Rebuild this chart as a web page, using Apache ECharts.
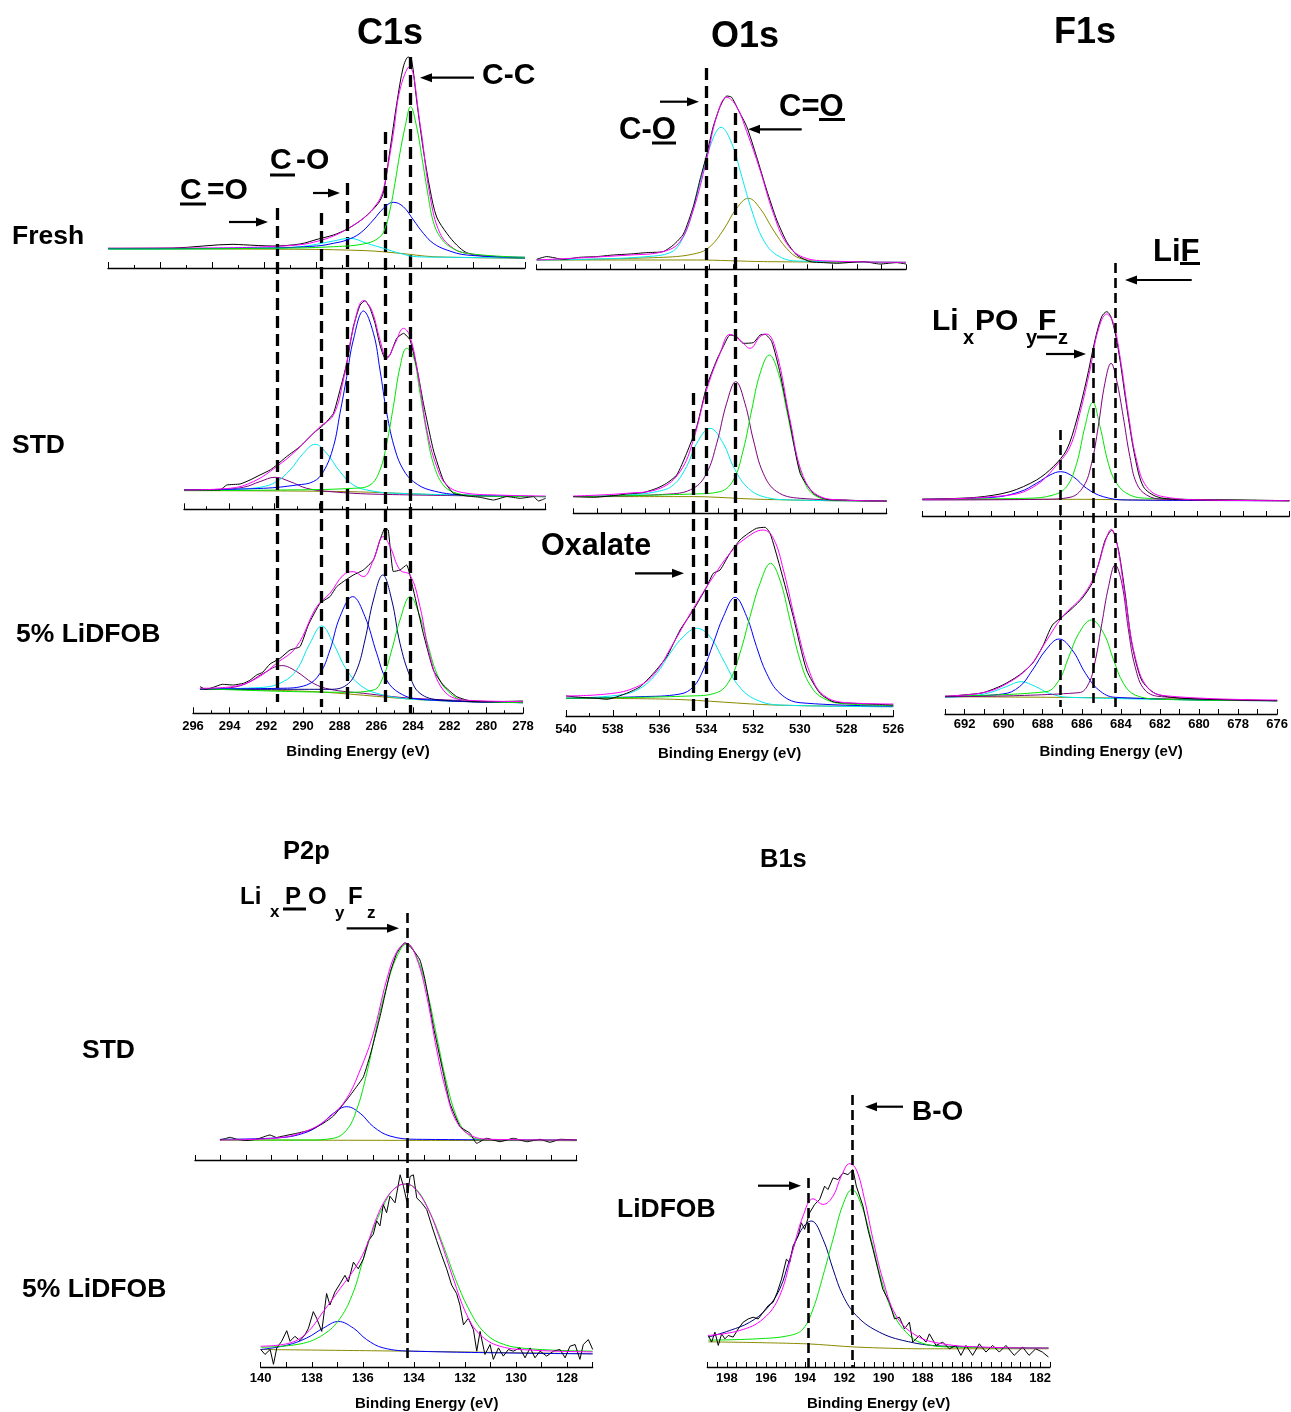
<!DOCTYPE html>
<html><head><meta charset="utf-8">
<script src="https://cdn.jsdelivr.net/npm/echarts/dist/echarts.min.js"></script>
<style>html,body{margin:0;padding:0;background:#fff}#c{width:1291px;height:1412px}</style>
</head><body><div id="c"></div><script>
// ---------------- DATA (binding energy eV, intensity a.u.) ----------------
// C1s Fresh
const c1sFreshData = [[296,19.7],[293.5,20],[291.2,23.7],[290.8,23.2],[289.66,22],[288.63,24],[287.93,29],[287.35,33],[286.84,38.7],[286.2,49.7],[285.63,64.7],[285.43,76],[285.18,118],[284.92,164.7],[284.67,201],[284.48,211],[284.35,208],[284.16,168],[283.9,118],[283.64,78],[283.39,51],[283.0,34.7],[282.62,23],[282.24,15.3],[281.6,12],[280,9.7]];
const c1sFreshFit = [[296,19.7],[291.19,20.3],[289.91,21.3],[288.63,23.3],[287.93,27],[287.35,32],[286.84,38.7],[286.2,49.7],[285.82,59.7],[285.5,73],[285.31,94.7],[285.05,134.7],[284.8,178],[284.44,201.3],[284.03,144.7],[283.64,71.3],[283.26,34.7],[282.75,19.7],[282.24,14.7],[280.96,11.3],[280,10.3]];
const c1sFreshCC = [[296,19],[289.91,19.7],[287.35,21.3],[286.07,24.7],[285.56,31.3],[285.37,39.7],[285.18,58],[284.99,84.7],[284.8,114.7],[284.6,141.3],[284.39,161.3],[284.16,141.3],[283.96,111.3],[283.71,71.3],[283.52,46.3],[283.26,31.3],[282.88,21.3],[282.24,14.7],[280,10.7]];
const c1sFreshB = [[296,19.3],[289.91,20],[288.0,22],[287.35,24.7],[286.84,28],[286.33,34.7],[285.82,48],[285.43,59.7],[285.05,65.7],[284.67,61.3],[284.28,48],[283.9,34.7],[283.52,24.7],[283.0,18],[282.24,13],[280,10.7]];
const c1sFreshC = [[296,19],[289.91,19.7],[288.63,21.3],[288.0,23.7],[287.35,27],[286.71,29.7],[286.07,24.7],[285.43,19.7],[284.8,14.7],[284.16,11.3],[282.88,10.7],[280,10]];
const c1sFreshBg = [[296,19],[288.63,18.7],[286.07,17.3],[284.8,14.7],[283.52,11.3],[280,9.7]];
// C1s STD
const c1sStdData = [[294,19.3],[292.41,19.3],[292.11,24.3],[291.52,25.3],[291.08,29.3],[290.64,34.3],[290.19,39.3],[289.9,44.3],[289.46,52.7],[288.87,62.7],[288.28,76],[287.83,84.3],[287.39,96],[287.1,119.3],[286.8,146],[286.51,182.7],[286.21,204.3],[285.99,208.7],[285.77,201],[285.55,186],[285.33,164.3],[285.11,151],[284.89,154.3],[284.59,171],[284.29,176],[284.0,169.3],[283.71,142.7],[283.41,106],[282.97,59.3],[282.53,29.3],[282.08,16],[281.49,13.3],[280.9,12],[280.31,9.3],[279.72,12.7],[279.13,11],[278.54,12.7],[278.32,8.3],[278,11]];
const c1sStdFit = [[294,19.3],[291.96,21],[290.93,27.7],[289.9,42.7],[289.01,59.3],[287.98,82.7],[287.39,94.3],[286.95,129.3],[286.51,181],[286.06,208.7],[285.7,199.3],[285.33,169.3],[285.03,151],[284.66,166],[284.29,181],[284.0,172.7],[283.63,132.7],[283.26,79.3],[282.82,42.7],[282.38,24.3],[281.64,16.6],[280.17,14.3],[278,13.3]];
const c1sStdB = [[294,19.3],[290.49,21],[289.01,24.3],[288.28,27.7],[287.83,37.7],[287.39,62.7],[287.1,96],[286.8,132.7],[286.51,169.3],[286.06,198.3],[285.62,176],[285.33,139.3],[285.03,96],[284.66,59.3],[284.29,39.3],[283.85,27.7],[283.12,19.3],[281.64,14.3],[278,12.7]];
const c1sStdG = [[294,18.7],[289.75,19.3],[286.51,21],[285.77,24.3],[285.33,39.3],[285.03,66],[284.74,102.7],[284.44,142.7],[284.15,161],[283.85,152.7],[283.56,116],[283.26,76],[282.97,46],[282.53,24.3],[281.94,16],[280.9,13.3],[278,12.7]];
const c1sStdC = [[294,19.3],[291.96,20],[290.64,22],[289.9,27.7],[289.31,39.3],[288.72,56],[288.2,65],[287.69,56],[287.1,37.7],[286.51,24.3],[285.77,18.7],[284.59,16],[278,12.7]];
const c1sStdP = [[294,19.3],[292.41,20],[291.37,22],[290.64,27.7],[289.97,32],[289.31,27.7],[288.57,21],[287.54,17.7],[285.33,15],[278,12.7]];
const c1sStdBg = [[294,18.7],[286.8,17.7],[282.38,14.3],[278,12.7]];
// C1s 5% LiDFOB
const c1sDfData = [[295.62,26.7],[295.3,24],[294.89,26],[294.4,29],[293.8,28.3],[293.25,30],[292.9,33],[292.53,38.3],[292.2,41],[291.8,49.3],[291.25,55],[290.71,63.3],[290.16,66.7],[289.71,88.3],[289.07,110],[288.53,116.7],[288.16,126.7],[287.62,134],[287.25,138.3],[286.71,143.3],[286.16,153.3],[285.8,173.3],[285.53,185],[285.35,183.3],[285.07,141.7],[284.71,143.3],[284.35,148.3],[283.98,123.3],[283.44,80],[282.89,43.3],[282.35,28.3],[281.62,16.7],[280.71,11.7],[279.44,11.7],[278,12.3]];
const c1sDfFit = [[295.62,25],[293.8,26.7],[292.53,35],[291.44,50],[290.35,66.7],[289.25,106.7],[288.53,120],[287.8,138.3],[287.25,141.7],[286.71,136.7],[286.16,153.3],[285.62,176.7],[285.25,166.7],[284.71,143.3],[284.16,138.3],[283.62,106.7],[283.07,56.7],[282.35,23.3],[281.25,13.3],[278,11.7]];
const c1sDfP = [[295.62,24.3],[293.98,25.6],[293.07,30],[292.16,40],[291.16,47.7],[290.35,41.7],[289.44,30],[288.53,24],[286.71,20],[283.98,15],[278,10.7]];
const c1sDfC = [[295.62,24.3],[292.16,26],[291.07,31.7],[290.35,43.3],[289.62,70],[288.98,87.3],[288.35,70],[287.62,43.3],[286.89,28.3],[285.98,20],[283.98,14],[278,10.7]];
const c1sDfB = [[295.62,24.3],[291.25,25],[289.8,28.3],[289.07,40],[288.53,63.3],[287.98,96.7],[287.29,116.7],[286.62,96.7],[285.98,60],[285.44,33.3],[284.71,20],[283.62,14],[278,10.7]];
const c1sDfN = [[295.62,24],[288.53,24],[287.62,28.3],[287.07,43.3],[286.62,73.3],[286.16,113.3],[285.65,138.3],[285.16,113.3],[284.71,70],[284.16,36.7],[283.62,20],[282.53,13.3],[278,10.7]];
const c1sDfG = [[295.62,24.7],[287.62,21],[286.16,23.3],[285.62,36.7],[285.16,63.3],[284.71,93.3],[284.16,116.7],[283.62,96.7],[283.16,66.7],[282.71,40],[282.16,23.3],[281.25,13.3],[278,10.7]];
const c1sDfBg = [[295.62,24.3],[289.44,21.7],[283.98,14],[281.25,11.7],[278,10.7]];
// O1s Fresh
const o1sFreshData = [[541,10],[540.59,12.7],[539.92,10],[539.24,12],[538.56,12.7],[537.89,14.3],[537.21,15.3],[536.53,16.7],[535.86,17.7],[535.45,24.3],[535.04,35.3],[534.64,62.7],[534.37,89.3],[534.1,114.3],[533.83,142.7],[533.55,162.7],[533.28,173.3],[533.08,172],[532.81,159.3],[532.47,142.7],[532.07,112.7],[531.66,79.3],[531.25,49.3],[530.85,27.7],[530.44,14.3],[529.9,7.7],[529.36,6.7],[528.82,6],[527.73,7.7],[527.06,5.3],[526.38,6.7],[526,5.3]];
const o1sFreshFit = [[541,9.3],[537.21,14.3],[535.86,17.7],[535.18,27.7],[534.64,59.3],[534.1,109.3],[533.69,152.7],[533.28,172],[532.88,162.7],[532.47,137.7],[531.93,99.3],[531.39,56],[530.85,26],[530.17,12],[529.09,8.3],[526,7]];
const o1sFreshC = [[541,9.3],[538.56,10.3],[536.53,12.7],[535.58,16.7],[535.18,26],[534.77,49.3],[534.37,86],[533.96,122.7],[533.51,142],[533.08,126],[532.67,92.7],[532.27,59.3],[531.79,29.3],[531.25,14.3],[530.44,8.3],[526,7]];
const o1sFreshO = [[541,9.3],[535.86,12],[534.5,16],[533.96,22.7],[533.42,39.3],[532.88,61],[532.4,71],[531.93,61],[531.39,39.3],[530.85,21],[530.31,11],[529.09,7.7],[526,7]];
const o1sFreshBg = [[541,9.3],[534.5,9.3],[531.79,7.7],[526,6.7]];
// O1s STD
const o1sStdData = [[540,16.7],[539.17,16],[538.48,17.3],[537.79,19.3],[537.1,20.7],[536.54,25],[536.13,30],[535.71,38.3],[535.3,60],[534.88,86.7],[534.47,126.7],[534.05,153.3],[533.78,166.7],[533.5,178.3],[533.22,176.7],[532.95,170],[532.53,170.7],[532.25,178.3],[532.05,179],[531.77,171.7],[531.42,140],[531.01,90],[530.59,40],[530.04,20],[529.49,14],[528.8,13.3],[528.11,12.7],[527,12.3]];
const o1sStdFit = [[540,17.3],[537.79,20],[536.4,25],[535.57,41.7],[535.02,73.3],[534.47,123.3],[533.91,160],[533.5,179],[533.08,173.3],[532.67,165],[532.25,176.7],[531.98,179.3],[531.56,160],[531.01,93.3],[530.46,36.7],[529.76,16.7],[528.8,13.3],[527,12.3]];
const o1sStdC = [[540,16.7],[537.79,18.3],[536.54,21.7],[535.85,28.3],[535.3,46.7],[534.88,70],[534.33,85],[533.78,70],[533.36,46.7],[532.81,26.7],[532.12,16.7],[530.87,13.3],[527,12.3]];
const o1sStdP = [[540,16.7],[535.99,19.3],[535.02,25],[534.47,40],[534.05,70],[533.64,110],[533.26,131.7],[532.88,110],[532.53,73.3],[532.12,40],[531.56,21.7],[530.59,15],[527,12.3]];
const o1sStdG = [[540,16.7],[535.02,19.3],[533.91,21.7],[533.36,33.3],[532.95,63.3],[532.6,103.3],[532.25,140],[531.87,158.3],[531.49,140],[531.15,103.3],[530.8,63.3],[530.39,30],[529.9,16.7],[529.07,13.3],[527,12.3]];
const o1sStdBg = [[540,16.7],[535.02,16.7],[532.25,14],[527,11.7]];
// O1s 5% LiDFOB
const o1sDfData = [[540,20],[539.3,18.5],[538.69,17.7],[538.26,16.7],[537.41,22.7],[536.83,29.3],[536.26,42.7],[535.69,59.3],[535.12,86],[534.55,106],[533.98,129.3],[533.7,142.7],[533.41,146],[532.99,162.7],[532.56,176],[532.2,182.7],[531.85,187.7],[531.49,188.7],[531.27,182.7],[530.85,149.3],[530.28,99.3],[529.71,46],[529.14,22.7],[528.57,14.3],[527.71,12.7],[526,11]];
const o1sDfFit = [[540,20],[538.26,22],[537.12,27.7],[536.26,41],[535.41,72.7],[534.55,107.7],[533.7,139.3],[532.99,162.7],[532.42,176],[531.56,186],[531.13,177.7],[530.7,146],[530.13,89.3],[529.56,42.7],[528.99,21],[528,13.3],[526,12]];
const o1sDfC = [[540,17.7],[537.69,21],[536.83,27.7],[536.12,42.7],[535.55,62.7],[534.98,79.3],[534.41,87.7],[533.84,79.3],[533.27,56],[532.7,32.7],[531.99,17.7],[530.85,11],[526,9.3]];
const o1sDfB = [[540,17.7],[536.83,19.3],[535.12,22],[534.55,29.3],[534.13,46],[533.7,72.7],[533.27,99.3],[532.77,118.7],[532.27,99.3],[531.85,69.3],[531.42,42.7],[530.85,22.7],[529.99,13.3],[526,10]];
const o1sDfG = [[540,17.7],[534.7,20],[533.56,23.3],[532.99,36],[532.56,62.7],[532.13,99.3],[531.7,132.7],[531.25,152.7],[530.85,136],[530.42,96],[529.99,56],[529.56,31],[528.99,17.7],[528,12],[526,10.7]];
const o1sDfBg = [[540,17.7],[535.41,16.7],[531.13,11],[526,9.3]];
// F1s STD
const f1sStdData = [[693,16.7],[690.63,18.7],[689.18,24.3],[688.02,36],[687.29,49.3],[686.71,66],[686.27,96],[685.84,136],[685.47,176],[685.18,199.3],[684.96,204.3],[684.75,197.7],[684.45,166],[684.09,109.3],[683.73,59.3],[683.36,29.3],[682.78,19.3],[681.91,16.7],[679,16],[677,15.3]];
const f1sStdFit = [[693,16.7],[689.18,21],[688.02,31],[687.14,51],[686.56,69.3],[686.13,102.7],[685.69,146],[685.33,186],[684.96,202],[684.67,192.7],[684.38,159.3],[684.02,102.7],[683.66,56],[683.22,29.3],[682.49,19.3],[680.46,16],[677,15.3]];
const f1sStdP = [[693,16],[687.72,16.7],[686.56,18.7],[685.98,29.3],[685.62,52.7],[685.33,89.3],[685.04,132.7],[684.77,152.7],[684.53,136],[684.24,99.3],[683.95,59.3],[683.66,32.7],[683.22,21],[682.49,16.7],[677,15.3]];
const f1sStdG = [[693,16.7],[688.45,17.7],[687.29,21],[686.71,29.3],[686.27,52.7],[685.91,89.3],[685.57,113.7],[685.25,89.3],[684.89,52.7],[684.53,32.7],[683.95,21],[683.07,17.7],[677,15.3]];
const f1sStdB = [[693,16.7],[689.9,18.7],[688.74,24.3],[688.02,32.7],[687.43,41],[686.97,44.3],[686.42,39.3],[685.84,27.7],[685.11,19.3],[684.09,16],[677,15.3]];
const f1sStdBg = [[693,16.7],[686.27,16.7],[683.36,16],[677,15.3]];
// F1s 5% LiDFOB
const f1sDfData = [[693,17.3],[692.07,19],[691.05,21.3],[690.04,29],[689.19,39],[688.52,50.7],[688.01,67.3],[687.5,89],[686.99,97.3],[686.49,105.7],[685.98,115.7],[685.47,130.7],[685.13,150.7],[684.8,174],[684.46,184],[684.12,164],[683.78,120.7],[683.44,70.7],[682.94,34],[682.26,20.7],[681.24,16.3],[679.38,14.7],[676,13.3]];
const f1sDfFit = [[693,18],[691.05,21.3],[689.87,30],[688.69,47.3],[687.84,72.3],[686.99,97.3],[685.98,117.3],[685.3,140.7],[684.8,172.3],[684.49,184.7],[684.2,170.7],[683.78,117.3],[683.27,57.3],[682.6,25.7],[681.58,18],[676,14]];
const f1sDfC = [[693,16.7],[691.73,18],[690.72,21.3],[689.87,27.3],[689.11,32.3],[688.35,27.3],[687.67,20.7],[686.66,16.7],[676,13.3]];
const f1sDfB = [[693,17.3],[690.04,20],[689.19,27.3],[688.52,44],[687.84,64],[687.16,75],[686.49,64],[685.81,40.7],[685.13,24],[684.29,16.7],[676,13.3]];
const f1sDfG = [[693,18],[687.84,22.3],[687.16,34],[686.66,57.3],[686.15,80.7],[685.51,94],[684.88,80.7],[684.37,54],[683.87,30.7],[683.27,19],[681.92,14.7],[676,13.3]];
const f1sDfP = [[693,17.3],[686.15,21.3],[685.64,30.7],[685.3,54],[684.97,90.7],[684.63,127.3],[684.29,149],[683.95,130.7],[683.61,84],[683.27,47.3],[682.77,24],[681.92,17.3],[676,13.3]];
const f1sDfBg = [[693,17.3],[685.3,16.3],[676,13.3]];
// P2p STD
const p2pStdData = [[142.02,20],[141.8,21.5],[141.62,22.7],[141.36,20.7],[141,19.5],[140.58,20.7],[140.05,25],[139.8,22.5],[139.53,24],[139,26.7],[138.48,30],[137.96,36.7],[137.56,44],[137.04,60],[136.65,73.3],[136.38,83.3],[136.06,110],[135.73,143.3],[135.34,186.7],[135.07,206.7],[134.75,217.3],[134.48,211.7],[134.16,200],[133.96,180],[133.63,133.3],[133.24,86.7],[132.98,56.7],[132.58,33.3],[132.19,26.7],[131.93,16.7],[131.54,21.7],[131.01,18.3],[130.49,21.7],[129.96,18.3],[129.44,20.7],[129.05,17.7],[128.65,20.7],[128,20]];
const p2pStdFit = [[142.02,20],[139.92,21.7],[138.61,29],[137.69,43.3],[137.04,61.7],[136.51,90],[135.99,126.7],[135.47,180],[135.07,208.3],[134.68,216.7],[134.29,201.7],[133.89,163.3],[133.5,110],[133.11,66.7],[132.72,38.3],[132.19,25],[131.41,20.7],[128,20]];
const p2pStdG = [[142.02,20],[138.61,20],[137.56,21.7],[137.04,30],[136.65,50],[136.25,86.7],[135.86,133.3],[135.47,173.3],[135.07,203.3],[134.68,216],[134.29,203.3],[133.89,170],[133.5,123.3],[133.11,76.7],[132.72,43.3],[132.32,26.7],[131.8,20.7],[128,20]];
const p2pStdB = [[142.02,20.7],[139.66,22.3],[138.74,26.7],[138.09,35],[137.56,46.7],[137.04,53.3],[136.51,46.7],[135.99,33.3],[135.34,24],[134.29,20.7],[128,20]];
const p2pStdBg = [[142.02,20],[128,19.3]];
// P2p 5% LiDFOB
const p2pDfData = [[140,17.7],[139.83,12.7],[139.63,17.7],[139.5,2.7],[139.37,19.3],[139.18,26],[138.98,36.7],[138.85,26],[138.66,31],[138.46,26.7],[138.26,32.7],[138.13,39.3],[137.94,56],[137.81,49.3],[137.61,36],[137.42,74.3],[137.29,62.7],[137.09,76],[136.89,84.3],[136.7,92.7],[136.57,86],[136.37,106],[136.18,99.3],[135.98,109.3],[135.78,127.7],[135.59,134.3],[135.46,147.7],[135.33,142.7],[135.2,164.3],[135.07,156],[134.94,172.7],[134.74,166],[134.54,194.3],[134.41,182.7],[134.28,167.7],[134.15,192.7],[134.02,194.3],[133.89,171],[133.7,166],[133.5,159.3],[133.3,142.7],[133.11,127.7],[132.91,112.7],[132.72,99.3],[132.52,82.7],[132.33,74.3],[132.2,62.7],[132.06,42.7],[131.87,49.3],[131.67,37.7],[131.54,16],[131.41,36],[131.22,12.7],[131.02,22.7],[130.89,7.7],[130.69,19.3],[130.5,11],[130.3,17.7],[130.11,16],[129.85,19.3],[129.65,9.3],[129.45,19.3],[129.26,9.3],[129.06,16],[128.8,11],[128.54,16],[128.28,17.7],[128.08,9.3],[127.89,21],[127.69,22.7],[127.5,7.7],[127.37,22.7],[127.17,27.7],[127,17.7]];
const p2pDfFit = [[140,21],[138.85,24.3],[138.2,34.3],[137.55,56],[136.89,79.3],[136.24,102.7],[135.85,122.7],[135.46,151],[135.07,171],[134.68,182],[134.35,185],[134.02,182],[133.5,162.7],[132.98,129.3],[132.46,89.3],[131.93,52.7],[131.41,32.7],[130.63,21],[129.32,17],[127,15.3]];
const p2pDfG = [[140,20],[138.46,23.3],[137.55,32.7],[136.89,49.3],[136.37,76],[135.98,109.3],[135.59,139.3],[135.2,162.7],[134.81,179.3],[134.35,185],[133.89,179.3],[133.37,156],[132.85,122.7],[132.33,86],[131.8,56],[131.28,36],[130.63,24.3],[129.59,18.7],[127,16]];
const p2pDfB = [[140,17.7],[138.98,22],[138.2,29.3],[137.55,39.3],[136.96,46],[136.37,39.3],[135.85,27.7],[135.2,19.3],[134.02,16],[127,13.3]];
const p2pDfBg = [[140,17.7],[134.28,16],[127,13.3]];
// B1s LiDFOB
const b1sData = [[198.95,31.7],[198.78,25],[198.61,35],[198.44,21.7],[198.27,33.3],[198.1,28.3],[197.93,31.7],[197.68,30],[197.42,38.3],[197.17,45],[196.91,48.3],[196.66,50],[196.4,48.3],[196.15,55],[195.89,61.7],[195.64,65],[195.43,75],[195.21,88.3],[194.96,108.3],[194.79,105],[194.62,121.7],[194.36,131.7],[194.2,145],[194.03,138.3],[193.77,155],[193.52,163.3],[193.26,168.3],[193.01,181.7],[192.84,178.3],[192.58,190],[192.33,188.3],[192.07,195],[191.82,193.3],[191.56,198.3],[191.39,181.7],[191.22,171.7],[191.05,161.7],[190.8,138.3],[190.54,118.3],[190.29,98.3],[190.04,78.3],[189.7,65],[189.44,48.3],[189.19,50],[188.93,38.3],[188.68,45],[188.51,25],[188.17,31.7],[187.83,25],[187.66,33.3],[187.32,21.7],[186.98,25],[186.64,18.3],[186.3,21.7],[186.05,11.7],[185.79,21.7],[185.45,11.7],[185.11,23.3],[184.77,15],[184.43,21.7],[184.09,15],[183.75,21.7],[183.33,11.7],[182.9,20],[182.57,11.7],[182.23,18.3],[181.89,15],[181.58,10]];
const b1sFit = [[198.95,31.7],[197.34,36.7],[196.15,48.3],[195.3,71.7],[194.62,118.3],[194.11,151.7],[193.6,169],[193.09,163.3],[192.58,171.7],[192.16,191.7],[191.73,204.3],[191.39,198.3],[190.97,168.3],[190.54,128.3],[190.04,88.3],[189.36,51.7],[188.34,31.7],[186.98,23.3],[184.94,20],[181.58,19]];
const b1sN = [[198.95,30],[197.85,36.7],[196.83,45],[195.98,58.3],[195.3,78.3],[194.79,108.3],[194.28,135],[193.69,146.7],[193.09,128.3],[192.58,98.3],[192.07,71.7],[191.39,51.7],[190.38,36.7],[189.02,26.7],[186.98,21],[181.58,19]];
const b1sG = [[198.95,27],[196.49,28.3],[194.79,31.7],[194.11,38.3],[193.6,58.3],[193.09,91.7],[192.58,128.3],[192.07,163.3],[191.61,178.3],[191.14,163.3],[190.63,128.3],[190.12,88.3],[189.53,55],[188.85,35],[188.0,23.7],[186.3,20],[181.58,19]];
const b1sBg = [[198.95,25.3],[193.94,23.3],[191.39,20],[188,18.3],[181.58,18.3]];
// Reference (dashed) lines, eV
const c1sRefLines = [291.43, 289.03, 287.6, 285.53, 284.16];
const o1sRefLines = [534.55, 533.98, 532.77];
const f1sRefLines = [687.16, 685.5, 684.37];
const p2pRefLines = [134.25];
const b1sRefLines = [193.86, 191.61];

// ---------------- LAYOUT ----------------
const FONT = '"Liberation Sans", Arial, Helvetica, sans-serif';
const panels = [
 {left:108, width:417, axisY:268, h:220, min:280, max:296, interval:2, minor:true, compsOnTop:true},
 {left:184, width:361.7, axisY:509.3, h:220, min:278, max:294, interval:2, minor:true},
 {left:193, width:330, axisY:713.3, h:210, min:278, max:296, interval:2, minor:true, labels:true, margin:7, nameGap:31},
 {left:536.7, width:369.3, axisY:269.3, h:200, min:526, max:541, interval:1},
 {left:573.3, width:313.4, axisY:513.3, h:200, min:527, max:540, interval:1},
 {left:566, width:327.3, axisY:716, h:200, min:526, max:540, interval:2, minor:true, labels:true, margin:7, nameGap:30},
 {left:922.3, width:367, axisY:516, h:220, min:677, max:693, interval:1},
 {left:945, width:335, axisY:714, h:200, min:676, max:693, interval:1, labels:true, margin:3.5, nameGap:30},
 {left:195, width:381.7, axisY:1160, h:240, min:128, max:143, interval:1},
 {left:260.7, width:332, axisY:1369.3, h:210, min:127, max:140, interval:1, labels:true, margin:5, nameGap:29},
 {left:707.3, width:342.7, axisY:1368.3, h:280, min:181.5, max:199, interval:0.5, labels:true, margin:5, nameGap:29}
];
const overlays = [
 {p:2, lines:c1sRefLines, span:[[208,702],[213,707],[183,705],[132,705],[57,714]], w:3.3, dash:[12,6]},
 {p:5, lines:o1sRefLines, span:[[393,713],[68,708],[113,680]], w:3.3, dash:[12,6]},
 {p:7, lines:f1sRefLines, span:[[430,707],[348,707],[263,707]], w:2.6, dash:[10,5]},
 {p:9, lines:p2pRefLines, span:[[913,1363]], w:2.6, dash:[10,5]},
 {p:10, lines:b1sRefLines, span:[[1178,1367],[1095,1367]], w:2.6, dash:[10,5]}
];

const grids = [], xAxes = [], yAxes = [], series = [];
const evenFmt = v => (Math.abs(Math.round(v) - v) < 1e-6 && Math.round(v) % 2 === 0) ? String(Math.round(v)) : '';
panels.forEach((p, i) => {
  grids.push({left:p.left, top:p.axisY - p.h, width:p.width, height:p.h});
  xAxes.push({
    type:'value', gridIndex:i, min:p.min, max:p.max, inverse:true, interval:p.interval,
    axisLine:{onZero:false, lineStyle:{color:'#000', width:1.3}},
    axisTick:{inside:true, length:p.minor ? 6 : 5, lineStyle:{color:'#000', width:1}},
    minorTick:{show:!!p.minor, splitNumber:2, length:3, lineStyle:{color:'#000', width:1}},
    splitLine:{show:false}, minorSplitLine:{show:false},
    axisLabel:{show:!!p.labels, margin:p.margin || 4, color:'#000', fontWeight:'bold', fontSize:13, fontFamily:FONT, formatter:evenFmt},
    name: p.labels ? 'Binding Energy (eV)' : '', nameLocation:'middle', nameGap:p.nameGap || 20,
    nameTextStyle:{color:'#000', fontWeight:'bold', fontSize:15, fontFamily:FONT}
  });
  yAxes.push({type:'value', gridIndex:i, min:0, max:p.h, show:false});
});

const COL = {data:'#000000', fit:'#ff00ff', green:'#00e600', blue:'#0000ff', cyan:'#00e8f0', purple:'#800080', olive:'#8a8a00', navy:'#000080'};
function curve(pi, data, color, smooth, z) {
  series.push({type:'line', xAxisIndex:pi, yAxisIndex:pi, data:data, symbol:'none', showSymbol:false,
    smooth:smooth, lineStyle:{color:color, width:1}, z:z || 2, silent:true, animation:false});
}
function panel(pi, bg, comps, data, fit, dataSmooth) {
  const top = panels[pi].compsOnTop;
  curve(pi, bg, COL.olive, 0.3, 1);
  comps.forEach(c => curve(pi, c[0], c[1], 0.4, top ? 5 : 2));
  curve(pi, data, COL.data, dataSmooth, 3);
  curve(pi, fit, COL.fit, 0.4, 4);
}
panel(0, c1sFreshBg, [[c1sFreshC, COL.cyan],[c1sFreshB, COL.blue],[c1sFreshCC, COL.green]], c1sFreshData, c1sFreshFit, 0.3);
panel(1, c1sStdBg, [[c1sStdP, COL.purple],[c1sStdC, COL.cyan],[c1sStdB, COL.blue],[c1sStdG, COL.green]], c1sStdData, c1sStdFit, 0.15);
panel(2, c1sDfBg, [[c1sDfP, COL.purple],[c1sDfC, COL.cyan],[c1sDfB, COL.blue],[c1sDfN, COL.navy],[c1sDfG, COL.green]], c1sDfData, c1sDfFit, 0.15);
panel(3, o1sFreshBg, [[o1sFreshO, COL.olive],[o1sFreshC, COL.cyan]], o1sFreshData, o1sFreshFit, 0.2);
panel(4, o1sStdBg, [[o1sStdC, COL.cyan],[o1sStdP, COL.purple],[o1sStdG, COL.green]], o1sStdData, o1sStdFit, 0.2);
panel(5, o1sDfBg, [[o1sDfC, COL.cyan],[o1sDfB, COL.blue],[o1sDfG, COL.green]], o1sDfData, o1sDfFit, 0.2);
panel(6, f1sStdBg, [[f1sStdB, COL.blue],[f1sStdG, COL.green],[f1sStdP, COL.purple]], f1sStdData, f1sStdFit, 0.3);
panel(7, f1sDfBg, [[f1sDfC, COL.cyan],[f1sDfB, COL.blue],[f1sDfG, COL.green],[f1sDfP, COL.purple]], f1sDfData, f1sDfFit, 0.25);
panel(8, p2pStdBg, [[p2pStdB, COL.blue],[p2pStdG, COL.green]], p2pStdData, p2pStdFit, 0.15);
panel(9, p2pDfBg, [[p2pDfB, COL.blue],[p2pDfG, COL.green]], p2pDfData, p2pDfFit, 0);
panel(10, b1sBg, [[b1sN, COL.navy],[b1sG, COL.green]], b1sData, b1sFit, 0);

overlays.forEach((o, k) => {
  const gi = panels.length + k, p = panels[o.p];
  grids.push({left:p.left, top:0, width:p.width, height:1412});
  xAxes.push({type:'value', gridIndex:gi, min:p.min, max:p.max, inverse:true, show:false});
  yAxes.push({type:'value', gridIndex:gi, min:0, max:1412, inverse:true, show:false});
  series.push({type:'line', xAxisIndex:gi, yAxisIndex:gi, data:[[p.min, 0]], symbol:'none',
    lineStyle:{opacity:0}, silent:true, animation:false, z:10,
    markLine:{silent:true, animation:false, symbol:['none','none'], label:{show:false},
      lineStyle:{color:'#000', width:o.w, type:o.dash, cap:'butt'},
      data:o.lines.map((e, j) => [{coord:[e, o.span[j][0]]},{coord:[e, o.span[j][1]]}])}
  });
});

// ---------------- ANNOTATIONS ----------------
const G = [];
function txt(s, x, y, size, align) {
  G.push({type:'text', x:x, y:y, silent:true, z:20, style:{text:s, font:'bold ' + size + 'px ' + FONT, fill:'#000',
    textAlign:align || 'left', align:align || 'left', textVerticalAlign:'middle', verticalAlign:'middle'}});
}
function uline(x1, x2, y) {
  G.push({type:'line', silent:true, z:20, shape:{x1:x1, y1:y, x2:x2, y2:y}, style:{stroke:'#000', lineWidth:3}});
}
function arrow(x1, x2, y) {
  const d = Math.sign(x2 - x1), hx = x2 - d * 12;
  G.push({type:'line', silent:true, z:20, shape:{x1:x1, y1:y, x2:hx, y2:y}, style:{stroke:'#000', lineWidth:2.2}});
  G.push({type:'polygon', silent:true, z:20, shape:{points:[[x2, y],[hx, y - 4.5],[hx, y + 4.5]]}, style:{fill:'#000'}});
}
txt('C1s', 390, 34, 36, 'center');
txt('O1s', 745, 37, 36, 'center');
txt('F1s', 1085, 33, 36, 'center');
txt('Fresh', 12, 237, 26.5);
txt('STD', 12, 446, 26.5);
txt('5% LiDFOB', 16, 635, 26.5);
txt('STD', 82, 1051, 26.5);
txt('5% LiDFOB', 22, 1290, 26.5);
txt('LiDFOB', 617, 1210, 26.5);
txt('P2p', 283, 852, 25.5);
txt('B1s', 760, 860, 25.5);
// C1s labels
txt('C-C', 482, 76, 30); arrow(474, 420, 77.7);
txt('C', 180, 191, 30); txt('=O', 207, 191, 30); uline(180, 206, 204); arrow(229, 268, 222);
txt('C', 270, 161, 30); txt('-O', 296, 161, 30); uline(270, 295, 175); arrow(313, 340, 193);
// O1s labels
txt('C-O', 619, 130, 31); uline(652, 676, 143); arrow(660, 699, 101.7);
txt('C=O', 779, 107, 31); uline(819, 845, 119.5); arrow(801.7, 748, 129.3);
txt('Oxalate', 541, 547, 30.5); arrow(635, 684, 573.3);
// F1s labels
txt('LiF', 1153, 252, 31); uline(1180, 1200, 263.5); arrow(1191.7, 1125, 280);
txt('Li', 932, 322, 30); txt('x', 963, 338, 20); txt('PO', 975, 322, 30); txt('y', 1026, 338, 20);
txt('F', 1038, 322, 30); txt('z', 1058, 338, 20); uline(1037, 1057, 337); arrow(1046, 1086, 354);
// P2p labels
txt('Li', 240, 897, 24); txt('x', 270, 912, 17); txt('P', 285, 897, 24); uline(283, 306, 909);
txt('O', 308, 897, 24); txt('y', 335, 913, 17); txt('F', 348, 897, 24); txt('z', 367, 913, 17);
arrow(346.7, 399, 928.3);
// B1s labels
txt('B-O', 912, 1112, 28); arrow(903, 865, 1106.7);
arrow(758, 801, 1185.7);

const chart = echarts.init(document.getElementById('c'), null, {renderer:'canvas'});
chart.setOption({
  animation:false, backgroundColor:'#ffffff',
  grid:grids, xAxis:xAxes, yAxis:yAxes, series:series,
  graphic:{elements:G}
});
</script></body></html>
